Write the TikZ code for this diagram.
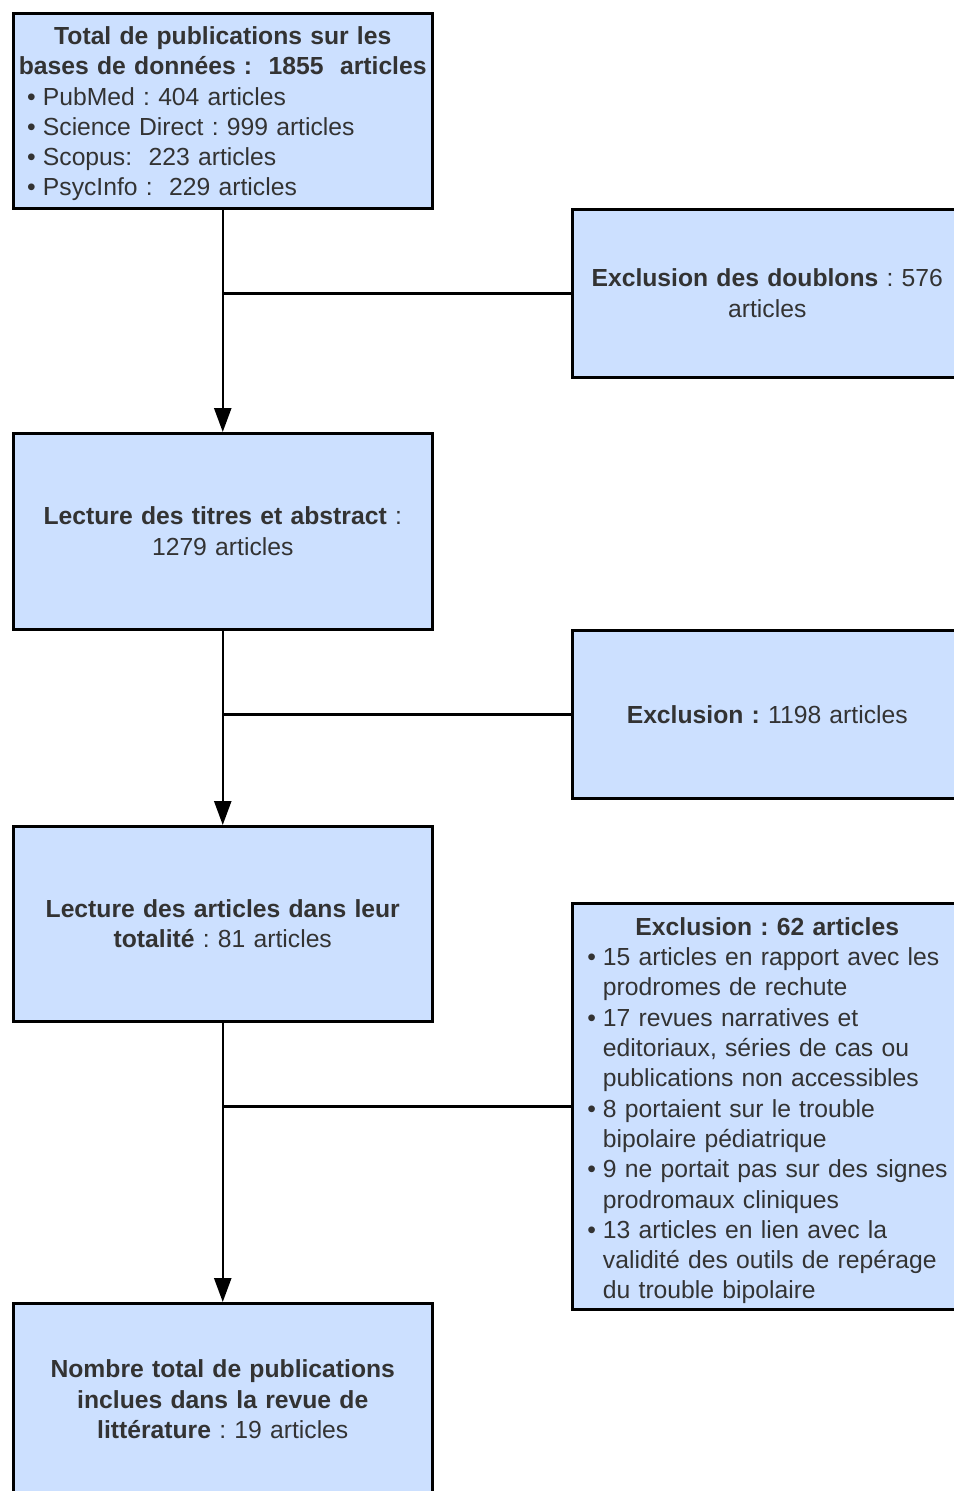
\documentclass[tikz,border=0pt]{standalone}
\usepackage{fontspec}
\setmainfont{Liberation Sans}
\usetikzlibrary{arrows.meta,positioning}
\definecolor{boxblue}{RGB}{204,224,255}
\definecolor{txtgrey}{RGB}{51,51,51}
\frenchspacing
\newcommand{\puce}[1][0pt]{\par\noindent\hspace*{#1}\hangindent=\dimexpr#1+15.7pt\relax\hangafter=1\makebox[15.7pt][l]{•}}

\begin{document}
\begin{tikzpicture}[x=1pt,y=-1pt,
    box/.style={draw=black, line width=2.5pt, fill=boxblue, text=txtgrey,
      rectangle, anchor=north west, inner sep=0pt,
      font=\fontsize{24.7}{30.3}\selectfont, align=center},
    link/.style={line width=2.5pt},
    arrow/.style={link, -{Triangle[width=17pt,length=24pt]}}]
\useasboundingbox (0,0) rectangle (953,1491);
% main column
\node[box, align=left, minimum width=419pt, minimum height=195pt, text width=415pt] (total) at (12,12)
  {{\centering\bfseries\rule{0pt}{24pt}Total de publications sur les\\ bases~de~données~:~~1855~~articles\par}
   \puce[12pt]PubMed : 404 articles
   \puce[12pt]Science Direct : 999 articles
   \puce[12pt]Scopus:~~223 articles
   \puce[12pt]PsycInfo :~~229 articles\par};
\node[box, minimum width=419pt, minimum height=196pt, text width=405pt] (titres) at (12,432)
  {\textbf{Lecture des titres et abstract} :\\ 1279 articles};
\node[box, minimum width=419pt, minimum height=195pt, text width=405pt] (totalite) at (12,825)
  {\textbf{Lecture des articles dans leur}\\ \textbf{totalité} : 81 articles};
\node[box, minimum width=419pt, minimum height=192pt, text width=405pt] (incluses) at (12,1302)
  {\textbf{Nombre total de publications}\\ \textbf{inclues dans la revue de}\\ \textbf{littérature} : 19 articles};
% exclusions
\node[box, minimum width=390pt, minimum height=168pt, text width=370pt] (doublons) at (571,208)
  {\textbf{Exclusion des doublons} : 576\\ articles};
\node[box, minimum width=390pt, minimum height=168pt, text width=370pt] (exclu1) at (571,629)
  {\textbf{Exclusion :} 1198 articles};
\node[box, align=left, minimum width=390pt, minimum height=406pt, text width=370pt] (exclu2) at (571,902)
  {{\centering\bfseries\rule{0pt}{27pt}Exclusion : 62 articles\par}
   \puce[5pt]15 articles en rapport avec les\newline prodromes de rechute
   \puce[5pt]17 revues narratives et\newline editoriaux, séries de cas ou\newline publications non accessibles
   \puce[5pt]8 portaient sur le trouble\newline bipolaire pédiatrique
   \puce[5pt]9 ne portait pas sur des signes\newline prodromaux cliniques
   \puce[5pt]13 articles en lien avec la\newline validité des outils de repérage\newline du trouble bipolaire\par};
% connectors
\draw[arrow] (total) -- (titres);
\draw[arrow] (titres) -- (totalite);
\draw[arrow] (totalite) -- (incluses);
\draw[link] (doublons.west) -- (doublons.west -| total.south);
\draw[link] (exclu1.west) -- (exclu1.west -| titres.south);
\draw[link] (exclu2.west) -- (exclu2.west -| totalite.south);
\end{tikzpicture}
\end{document}
